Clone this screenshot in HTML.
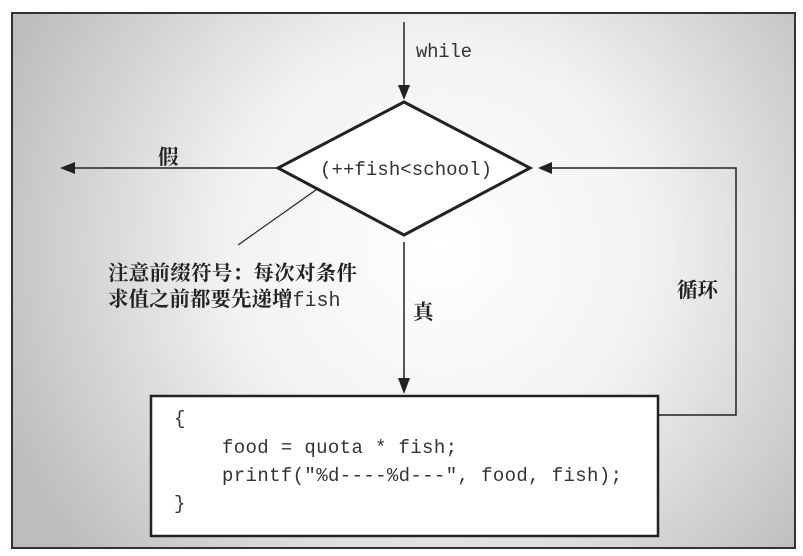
<!DOCTYPE html>
<html><head><meta charset="utf-8"><style>
html,body{margin:0;padding:0;background:#fff;width:803px;height:556px;overflow:hidden}
svg{display:block}
.m{font-family:"Liberation Mono",monospace;font-size:19px;fill:#333}
.c{font-family:"Liberation Serif","Noto Serif CJK SC",serif;font-size:20.5px;font-weight:bold;fill:#222}
</style></head><body>
<svg width="803" height="556" viewBox="0 0 803 556" xmlns="http://www.w3.org/2000/svg">
<defs>
<radialGradient id="g" cx="440" cy="250" r="470" gradientUnits="userSpaceOnUse">
<stop offset="0" stop-color="#ffffff"/><stop offset="0.45" stop-color="#f2f2f2"/><stop offset="1" stop-color="#bdbdbd"/>
</radialGradient>
</defs>
<rect x="12" y="13" width="783" height="535" fill="url(#g)" stroke="#333" stroke-width="2"/>
<g stroke="#222" stroke-width="1.5" fill="none">
<line x1="404" y1="22" x2="404" y2="90"/>
<line x1="278" y1="168" x2="70" y2="168"/>
<line x1="404" y1="242" x2="404" y2="382"/>
<polyline points="658,415 736,415 736,168 548,168"/>
<line x1="330" y1="180" x2="238" y2="245" stroke-width="1.2"/>
</g>
<g fill="#222">
<polygon points="398,85 410,85 404,100"/>
<polygon points="60,168 75,162 75,174"/>
<polygon points="398,378 410,378 404,394"/>
<polygon points="538,168 552,162 552,174"/>
</g>
<polygon points="404,102 530,168 404,235 278,168" fill="#fff" stroke="#222" stroke-width="3"/>
<rect x="151" y="396" width="507" height="140" fill="#fff" stroke="#222" stroke-width="2.5"/>
<text class="m" x="416" y="57" textLength="56">while</text>
<text class="m" x="320" y="175" textLength="172">(++fish&lt;school)</text>
<text class="c" x="158" y="164">假</text>
<text class="c" x="413" y="319">真</text>
<text class="c" x="677" y="297">循环</text>
<text class="c" x="108" y="280" textLength="249">注意前缀符号：每次对条件</text>
<text class="c" x="108" y="306">求值之前都要先递增<tspan class="m" style="font-weight:normal;font-size:20px">fish</tspan></text>
<text class="m" x="174" y="424">{</text>
<text class="m" x="222" y="453" textLength="235">food = quota * fish;</text>
<text class="m" x="222" y="481" textLength="400">printf("%d----%d---", food, fish);</text>
<text class="m" x="174" y="509">}</text>
</svg>
</body></html>
